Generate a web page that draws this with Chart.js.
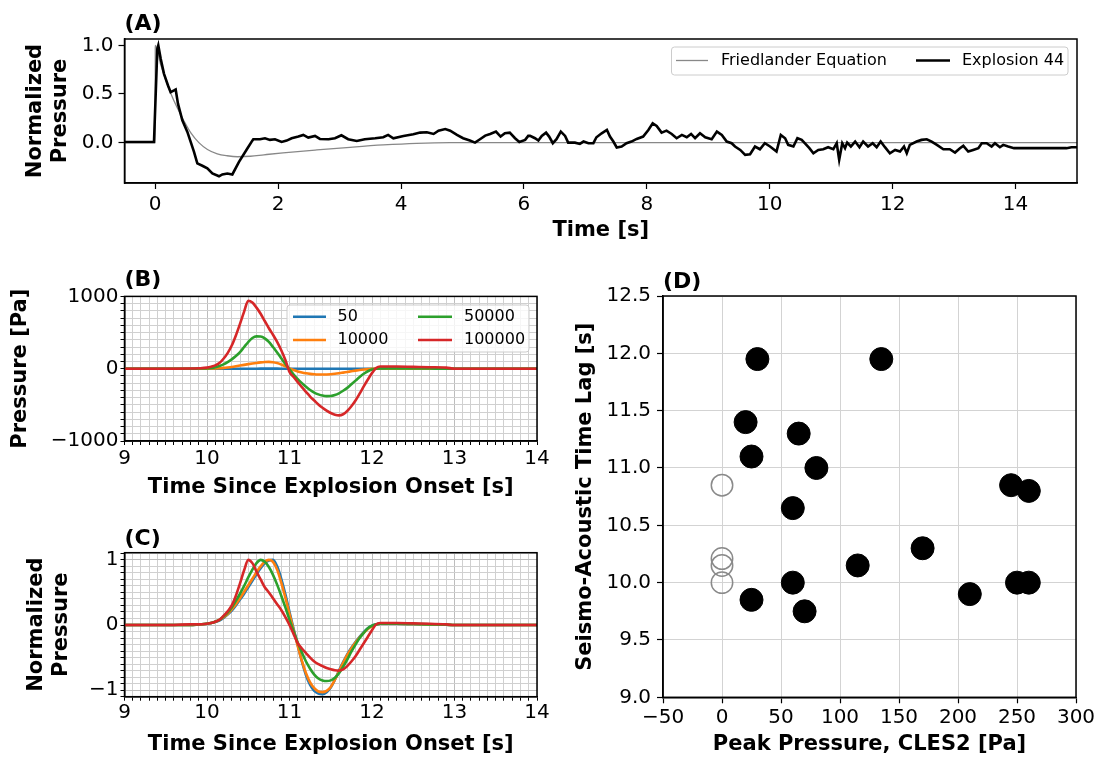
<!DOCTYPE html>
<html>
<head>
<meta charset="utf-8">
<script src="https://cdn.jsdelivr.net/npm/chart.js@4.4.1/dist/chart.umd.min.js"></script>
<style>
html,body{margin:0;padding:0;background:#fff;}
#wrap{position:relative;width:1102px;height:759px;overflow:hidden;background:#fff;}
.pane{position:absolute;}
</style>
</head>
<body>
<div id="wrap">
  <div class="pane" style="left:0;top:0;width:1102px;height:245px"><canvas id="cA"></canvas></div>
  <div class="pane" style="left:0;top:250px;width:560px;height:255px"><canvas id="cB"></canvas></div>
  <div class="pane" style="left:0;top:505px;width:560px;height:254px"><canvas id="cC"></canvas></div>
  <div class="pane" style="left:560px;top:250px;width:542px;height:509px"><canvas id="cD"></canvas></div>
</div>
<script>
// ---------------- DATA ----------------
// Panel A
const explosionTime = [
  -0.5,-0.02,0.034,0.05,0.09,0.143,0.208,0.251,0.306,0.333,
  0.37,0.441,0.523,0.577,0.631,0.685,0.767,0.848,0.93,1.038,
  1.092,1.174,1.255,1.363,1.499,1.58,1.596,1.705,1.786,1.867,
  1.949,2.057,2.139,2.22,2.33,2.41,2.49,2.60,2.68,2.82,
  2.925,3.03,3.14,3.28,3.41,3.58,3.71,3.79,3.875,4.04,
  4.20,4.31,4.42,4.53,4.61,4.72,4.80,4.91,5.01,5.12,
  5.204,5.285,5.37,5.45,5.545,5.62,5.69,5.77,5.855,5.925,
  6.02,6.07,6.10,6.18,6.235,6.29,6.36,6.41,6.47,6.53,
  6.60,6.67,6.72,6.83,6.91,6.97,7.05,7.13,7.18,7.265,
  7.35,7.40,7.455,7.51,7.59,7.67,7.75,7.835,7.94,8.025,
  8.095,8.16,8.24,8.32,8.405,8.485,8.57,8.65,8.72,8.785,
  8.865,8.95,9.055,9.14,9.22,9.30,9.38,9.435,9.52,9.60,
  9.68,9.76,9.84,9.92,10.005,10.11,10.18,10.25,10.30,10.385,
  10.45,10.52,10.57,10.645,10.71,10.79,10.87,10.95,11.035,11.09,
  11.13,11.18,11.225,11.26,11.32,11.39,11.46,11.52,11.60,11.675,
  11.74,11.805,11.875,11.955,12.04,12.12,12.185,12.23,12.28,12.39,
  12.47,12.555,12.635,12.72,12.825,12.93,13.015,13.095,13.15,13.23,
  13.31,13.395,13.45,13.53,13.61,13.665,13.745,13.80,13.88,13.975,
  14.83,14.91,15.0];
const explosionPressure = [
  0.007,0.007,0.963,1.0,0.86,0.707,0.587,0.519,0.536,0.546,
  0.40,0.229,0.11,0.007,-0.095,-0.214,-0.238,-0.265,-0.317,-0.346,
  -0.327,-0.317,-0.327,-0.197,-0.061,0.02,0.035,0.035,0.045,0.028,
  0.035,0.007,0.021,0.045,0.062,0.079,0.052,0.069,0.038,0.035,
  0.045,0.075,0.035,0.017,0.035,0.045,0.055,0.079,0.045,0.069,
  0.086,0.103,0.106,0.089,0.123,0.14,0.123,0.079,0.045,0.021,
  0.0,0.035,0.072,0.089,0.113,0.062,0.096,0.103,0.045,0.007,
  0.028,0.069,0.069,0.045,0.021,0.069,0.103,0.062,-0.006,0.035,
  0.113,0.069,0.0,0.0,-0.013,0.011,-0.006,-0.006,0.055,0.096,
  0.13,0.062,0.011,-0.05,-0.04,-0.006,0.011,0.038,0.062,0.13,
  0.198,0.171,0.103,0.123,0.089,0.045,0.079,0.055,0.089,0.045,
  0.096,0.055,0.035,0.113,0.079,0.011,-0.006,-0.04,-0.075,-0.126,
  -0.12,-0.04,-0.068,-0.006,-0.04,-0.092,0.079,0.045,-0.023,-0.04,
  0.045,0.028,-0.006,-0.057,-0.109,-0.075,-0.068,-0.047,-0.068,-0.006,
  -0.177,-0.006,-0.057,0.0,-0.04,0.011,-0.047,0.011,-0.04,-0.006,
  -0.047,0.011,-0.047,-0.109,-0.075,-0.092,-0.04,-0.109,-0.023,0.011,
  0.028,0.035,0.011,-0.023,-0.068,-0.068,-0.102,-0.057,-0.033,-0.092,
  -0.075,-0.057,-0.006,-0.006,-0.04,-0.006,-0.047,-0.023,-0.04,-0.057,
  -0.057,-0.047,-0.047];
const friedlanderTime = [-0.5,0.0,0.001,0.09,0.17,0.25,0.36,0.47,0.58,0.71,0.85,1.01,1.17,1.34,1.55,1.77,2.08,2.63,3.17,3.71,4.25,4.8,15.0];
const friedlanderPressure = [0,0,1.0,0.80,0.645,0.51,0.355,0.22,0.10,0.0,-0.07,-0.115,-0.135,-0.145,-0.14,-0.125,-0.105,-0.075,-0.048,-0.024,-0.007,0.0,0.0];
const aLabels = ['Friedlander Equation','Explosion 44'];
const aXTicks = [0,2,4,6,8,10,12,14];
const aYTicks = [0.0,0.5,1.0];

// Panels B and C (shared time axis)
const bcTime = [9.0,9.5,9.8,9.9,10.0,10.05,10.1,10.15,10.2,10.25,10.3,10.35,10.4,10.45,10.5,10.55,10.6,10.65,10.7,10.75,10.8,10.85,10.9,10.95,11.0,11.05,11.1,11.15,11.2,11.25,11.3,11.35,11.4,11.45,11.5,11.55,11.6,11.65,11.7,11.75,11.8,11.85,11.9,11.95,12.0,12.05,12.1,12.15,12.2,12.3,12.5,12.7,12.9,13.0,13.5,14.0];
const seriesLabels = ['50','10000','50000','100000'];
// Panel B: pressure [Pa]
const b50 =     [0,0,0,0,0,0,0,0,0,0,0,0,0,0.1,0.1,0.2,0.3,0.4,0.5,0.5,0.5,0.4,0.3,0.2,0,-0.1,-0.2,-0.3,-0.4,-0.4,-0.5,-0.5,-0.5,-0.5,-0.5,-0.4,-0.4,-0.3,-0.3,-0.2,-0.2,-0.1,-0.1,0,0,0,0,0,0,0,0,0,0,0,0,0];
const b10000 =  [0,0,0,0,1,2,4,7,11,17,24,33,43,53,63,72,80,87,92,94,90,78,58,32,5,-18,-38,-53,-64,-72,-77,-80,-81,-80,-77,-71,-63,-54,-45,-36,-27,-19,-12,-6,-2,1,2,2,1,1,1,0,0,0,0,0];
const b50000 =  [0,0,0,2,5,10,20,38,60,90,129,175,230,300,369,424,447,445,420,370,300,225,145,65,-10,-80,-145,-200,-250,-295,-330,-355,-372,-380,-378,-365,-340,-305,-265,-215,-165,-115,-70,-35,-12,0,5,5,4,4,3,2,1,0,0,0];
const b100000 = [0,0,2,6,15,28,46,78,138,216,320,460,620,790,940,915,845,760,660,560,470,370,255,120,-45,-115,-185,-255,-320,-385,-440,-495,-540,-580,-613,-636,-645,-630,-585,-520,-440,-345,-245,-150,-60,10,30,30,30,30,25,20,15,0,0,0];
// Panel C: normalized pressure
const c50 =     [0,0,0,0.01,0.02,0.03,0.05,0.07,0.11,0.16,0.22,0.30,0.39,0.48,0.58,0.68,0.78,0.87,0.95,0.99,1.0,0.90,0.71,0.47,0.20,-0.06,-0.31,-0.56,-0.77,-0.92,-1.01,-1.05,-1.06,-1.03,-0.96,-0.84,-0.70,-0.57,-0.45,-0.35,-0.26,-0.18,-0.11,-0.05,-0.01,0.01,0.02,0.02,0.02,0.02,0.015,0.01,0.005,0,0,0];
const c10000 =  [0,0,0,0.01,0.02,0.03,0.05,0.08,0.12,0.17,0.24,0.32,0.41,0.51,0.61,0.71,0.81,0.90,0.97,1.0,0.97,0.85,0.65,0.42,0.17,-0.08,-0.32,-0.55,-0.74,-0.88,-0.97,-1.02,-1.03,-1.01,-0.95,-0.84,-0.71,-0.58,-0.46,-0.36,-0.27,-0.19,-0.12,-0.06,-0.02,0.01,0.02,0.02,0.02,0.02,0.015,0.01,0.005,0,0,0];
const c50000 =  [0,0,0,0.01,0.02,0.03,0.05,0.08,0.13,0.19,0.27,0.37,0.48,0.60,0.73,0.85,0.95,1.0,0.97,0.89,0.77,0.62,0.45,0.27,0.08,-0.10,-0.27,-0.42,-0.56,-0.67,-0.76,-0.82,-0.85,-0.86,-0.85,-0.81,-0.74,-0.64,-0.53,-0.41,-0.30,-0.20,-0.12,-0.05,-0.01,0.01,0.02,0.02,0.02,0.02,0.015,0.01,0.005,0,0,0];
const c100000 = [0,0,0.01,0.01,0.02,0.03,0.05,0.08,0.14,0.21,0.30,0.45,0.64,0.84,1.0,0.95,0.82,0.70,0.58,0.50,0.41,0.32,0.23,0.12,0.0,-0.14,-0.28,-0.36,-0.43,-0.50,-0.56,-0.60,-0.63,-0.66,-0.68,-0.695,-0.70,-0.68,-0.63,-0.56,-0.48,-0.38,-0.28,-0.18,-0.08,0.01,0.03,0.03,0.03,0.03,0.025,0.02,0.01,0,0,0];
const bcXTicks = [9,10,11,12,13,14];
const bcXMinorStep = 0.1;
const bYTicks = [-1000,0,1000];
const bYMinorStep = 100;
const cYTicks = [-1,0,1];
const cYMinorStep = 0.1;

// Panel D
const dPeakDetected = [30,135,20,65,25,80,245,260,60,170,115,60,250,260,210,25,70];
const dLagDetected  = [11.95,11.95,11.40,11.30,11.10,11.00,10.85,10.80,10.65,10.30,10.15,10.00,10.00,10.00,9.90,9.85,9.75];
const dPeakNone = [0,0,0,0];
const dLagNone  = [10.85,10.21,10.15,10.00];
const dXTicks = [-50,0,50,100,150,200,250,300];
const dYTicks = [9.0,9.5,10.0,10.5,11.0,11.5,12.0,12.5];

// ---------------- HELPERS ----------------
Chart.defaults.font.family = "'DejaVu Sans', sans-serif";
Chart.defaults.font.size = 20;
Chart.defaults.color = '#000';
Chart.defaults.animation = false;
Chart.defaults.plugins.legend.display = false;
Chart.defaults.plugins.tooltip.enabled = false;

const MINUS = '\u2212';
const fmtNum = (v, d) => (d == null ? String(v) : v.toFixed(d)).replace('-', MINUS);
const pts = (xs, ys) => xs.map((x, i) => ({x, y: ys[i]}));
const TAB = {blue:'#1f77b4', orange:'#ff7f0e', green:'#2ca02c', red:'#d62728'};

function withMinor(major, step) {
  const lo = major[0], hi = major[major.length - 1];
  const n = Math.round((hi - lo) / step);
  const out = [];
  for (let k = 0; k <= n; k++) {
    const v = Math.round((lo + k * step) * 1e6) / 1e6;
    out.push({value: v, major: major.some(m => Math.abs(m - v) < 1e-9)});
  }
  return out;
}

const framePlugin = {
  id: 'frame',
  afterDraw(chart) {
    const {left, top, right, bottom} = chart.chartArea;
    const ctx = chart.ctx;
    ctx.save();
    ctx.strokeStyle = '#000';
    ctx.lineWidth = 1.5;
    ctx.strokeRect(left, top, right - left, bottom - top);
    ctx.restore();
  }
};

function makeLegend(box, entries, fontSize) {
  return {
    id: 'boxLegend',
    afterDraw(chart) {
      const ctx = chart.ctx;
      ctx.save();
      const r = 3;
      ctx.beginPath();
      ctx.moveTo(box.x + r, box.y);
      ctx.arcTo(box.x + box.w, box.y, box.x + box.w, box.y + box.h, r);
      ctx.arcTo(box.x + box.w, box.y + box.h, box.x, box.y + box.h, r);
      ctx.arcTo(box.x, box.y + box.h, box.x, box.y, r);
      ctx.arcTo(box.x, box.y, box.x + box.w, box.y, r);
      ctx.closePath();
      ctx.fillStyle = 'rgba(255,255,255,0.8)';
      ctx.fill();
      ctx.strokeStyle = '#cccccc';
      ctx.lineWidth = 1;
      ctx.stroke();
      ctx.font = fontSize + "px 'DejaVu Sans', sans-serif";
      ctx.textBaseline = 'middle';
      ctx.textAlign = 'left';
      entries.forEach(e => {
        const ds = chart.data.datasets[e.index];
        ctx.strokeStyle = ds.borderColor;
        ctx.lineWidth = ds.borderWidth;
        ctx.beginPath();
        ctx.moveTo(e.x1, e.y);
        ctx.lineTo(e.x2, e.y);
        ctx.stroke();
        ctx.fillStyle = '#000';
        ctx.fillText(ds.label, e.tx, e.y);
      });
      ctx.restore();
    }
  };
}

const axisTitle = (text, padding) => ({display: true, text, color: '#000', font: {size: 21, weight: 'bold', lineHeight: 1.15}, padding});
const panelTitle = (text, padding) => ({display: true, text, align: 'start', fullSize: false, color: '#000', font: {size: 22, weight: 'bold', lineHeight: 1.2}, padding});
const BORDER = {color: '#000', width: 1.5};

// ---------------- PANEL A ----------------
new Chart(document.getElementById('cA'), {
  type: 'scatter',
  data: {datasets: [
    {label: aLabels[0], data: pts(friedlanderTime, friedlanderPressure), showLine: true, pointRadius: 0, borderColor: '#888888', borderWidth: 1.3, cubicInterpolationMode: 'monotone', order: 2},
    {label: aLabels[1], data: pts(explosionTime, explosionPressure), showLine: true, pointRadius: 0, borderColor: '#000000', borderWidth: 2.6, tension: 0, order: 1}
  ]},
  options: {
    responsive: true, maintainAspectRatio: false, devicePixelRatio: 1,
    layout: {padding: {top: 0, left: 0, right: 25, bottom: 0}},
    plugins: {title: panelTitle('(A)', {top: 10.8, bottom: 1.8})},
    scales: {
      x: {type: 'linear', min: -0.5, max: 15,
        afterBuildTicks: ax => { ax.ticks = aXTicks.map(v => ({value: v})); },
        afterFit: s => { s.height = 62; },
        ticks: {autoSkip: false, maxRotation: 0, padding: 4, callback: v => fmtNum(v)},
        grid: {drawOnChartArea: false, drawTicks: true, tickLength: 6, tickColor: '#000', tickWidth: 1.2},
        border: BORDER,
        title: axisTitle('Time [s]', {bottom: 2.4})},
      y: {type: 'linear', min: -0.415, max: 1.065,
        afterBuildTicks: ax => { ax.ticks = aYTicks.map(v => ({value: v})); },
        afterFit: s => { s.width = 124.5; },
        ticks: {autoSkip: false, padding: 5, callback: v => fmtNum(v, 1)},
        grid: {drawOnChartArea: false, drawTicks: true, tickLength: 6, tickColor: '#000', tickWidth: 1.2},
        border: BORDER,
        title: axisTitle(['Normalized', 'Pressure'], {top: 23.9})}
    }
  },
  plugins: [framePlugin, makeLegend({x: 671.5, y: 47, w: 396.5, h: 28}, [
    {index: 0, x1: 676, x2: 708, tx: 721, y: 60.5},
    {index: 1, x1: 916, x2: 950, tx: 962, y: 60.5}
  ], 16)]
});

// ---------------- PANELS B & C ----------------
function gridOpts() {
  return {drawOnChartArea: true, drawTicks: true, tickLength: 4, tickColor: '#000', tickWidth: 1,
    color: c => (c.tick && c.tick.major) ? '#bdbdbd' : '#d0d0d0', lineWidth: 1};
}
function bcDatasets(v50, v1e4, v5e4, v1e5) {
  const mk = (i, vals, col, ord) => ({label: seriesLabels[i], data: pts(bcTime, vals), showLine: true, pointRadius: 0,
    borderColor: col, borderWidth: 2.6, cubicInterpolationMode: 'monotone', order: ord});
  return [mk(0, v50, TAB.blue, 4), mk(1, v1e4, TAB.orange, 3), mk(2, v5e4, TAB.green, 2), mk(3, v1e5, TAB.red, 1)];
}
function bcXScale(axisHeight, tickPad, titlePadBottom) {
  return {type: 'linear', min: 9, max: 14,
    afterBuildTicks: ax => { ax.ticks = withMinor(bcXTicks, bcXMinorStep); },
    afterFit: s => { s.height = axisHeight; },
    ticks: {autoSkip: false, maxRotation: 0, padding: tickPad, callback: (v, i, t) => t[i].major ? fmtNum(v) : ''},
    grid: gridOpts(), border: BORDER,
    title: axisTitle('Time Since Explosion Onset [s]', {bottom: titlePadBottom})};
}

new Chart(document.getElementById('cB'), {
  type: 'scatter',
  data: {datasets: bcDatasets(b50, b10000, b50000, b100000)},
  options: {
    responsive: true, maintainAspectRatio: false, devicePixelRatio: 1,
    layout: {padding: {top: 0, left: 0, right: 23, bottom: 0}},
    plugins: {title: panelTitle('(B)', {top: 17.3, bottom: 2.7})},
    scales: {
      x: bcXScale(64, 2, 4.9),
      y: {type: 'linear', min: -1000, max: 1000,
        afterBuildTicks: ax => { ax.ticks = withMinor(bYTicks, bYMinorStep); },
        afterFit: s => { s.width = 124.5; },
        ticks: {autoSkip: false, padding: 2, callback: (v, i, t) => t[i].major ? fmtNum(v) : ''},
        grid: gridOpts(), border: BORDER,
        title: axisTitle('Pressure [Pa]', {top: 8.9})}
    }
  },
  plugins: [framePlugin, makeLegend({x: 287, y: 55, w: 242, h: 47}, [
    {index: 0, x1: 293, x2: 326, tx: 337.5, y: 66.7},
    {index: 1, x1: 293, x2: 326, tx: 337.5, y: 90},
    {index: 2, x1: 418, x2: 452, tx: 464, y: 66.7},
    {index: 3, x1: 418, x2: 452, tx: 464, y: 90}
  ], 16)]
});

new Chart(document.getElementById('cC'), {
  type: 'scatter',
  data: {datasets: bcDatasets(c50, c10000, c50000, c100000)},
  options: {
    responsive: true, maintainAspectRatio: false, devicePixelRatio: 1,
    layout: {padding: {top: 0, left: 0, right: 23, bottom: 0}},
    plugins: {title: panelTitle('(C)', {top: 21.3, bottom: 0})},
    scales: {
      x: bcXScale(62.3, 0, 1.9),
      y: {type: 'linear', min: -1.1, max: 1.11,
        afterBuildTicks: ax => { ax.ticks = withMinor([-1.1, 1.1], cYMinorStep).map(t => ({value: t.value, major: cYTicks.some(m => Math.abs(m - t.value) < 1e-9)})); },
        afterFit: s => { s.width = 124.5; },
        ticks: {autoSkip: false, padding: 2, callback: (v, i, t) => t[i].major ? fmtNum(Math.round(v)) : ''},
        grid: gridOpts(), border: BORDER,
        title: axisTitle(['Normalized', 'Pressure'], {top: 24.9})}
    }
  },
  plugins: [framePlugin]
});

// ---------------- PANEL D ----------------
new Chart(document.getElementById('cD'), {
  type: 'scatter',
  data: {datasets: [
    {label: 'Detected', data: pts(dPeakDetected, dLagDetected), pointRadius: 11.5, pointBackgroundColor: '#000', pointBorderColor: '#000', pointBorderWidth: 1, backgroundColor: '#000', borderColor: '#000'},
    {label: 'Not detected', data: pts(dPeakNone, dLagNone), pointRadius: 10.7, pointBackgroundColor: 'rgba(0,0,0,0)', pointBorderColor: '#8a8a8a', pointBorderWidth: 1.5, backgroundColor: 'rgba(0,0,0,0)', borderColor: '#8a8a8a'}
  ]},
  options: {
    responsive: true, maintainAspectRatio: false, devicePixelRatio: 1,
    layout: {padding: {top: 0, left: 0, right: 26, bottom: 0}},
    plugins: {title: panelTitle('(D)', {top: 19.3, bottom: 0.3})},
    scales: {
      x: {type: 'linear', min: -50, max: 300,
        afterBuildTicks: ax => { ax.ticks = dXTicks.map(v => ({value: v})); },
        afterFit: s => { s.height = 61.7; },
        ticks: {autoSkip: false, maxRotation: 0, padding: 2, callback: v => fmtNum(v)},
        grid: {drawOnChartArea: true, drawTicks: true, tickLength: 6, tickColor: '#000', tickWidth: 1.2, color: '#d3d3d3', lineWidth: 1},
        border: BORDER,
        title: axisTitle('Peak Pressure, CLES2 [Pa]', {bottom: 2})},
      y: {type: 'linear', min: 9, max: 12.5,
        afterBuildTicks: ax => { ax.ticks = dYTicks.map(v => ({value: v})); },
        afterFit: s => { s.width = 103; },
        ticks: {autoSkip: false, padding: 6, callback: v => fmtNum(v, 1)},
        grid: {drawOnChartArea: true, drawTicks: true, tickLength: 6, tickColor: '#000', tickWidth: 1.2, color: '#d3d3d3', lineWidth: 1},
        border: BORDER,
        title: axisTitle('Seismo-Acoustic Time Lag [s]', {top: 13})}
    }
  },
  plugins: [framePlugin]
});
</script>
</body>
</html>
